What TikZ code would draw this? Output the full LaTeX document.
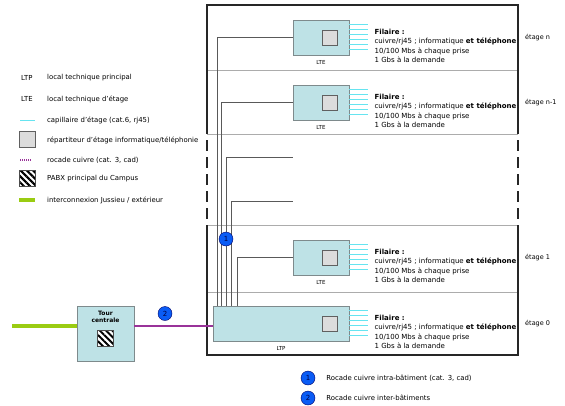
\documentclass[tikz,border=0pt]{standalone}
\usepackage{fontspec}
\setmainfont{DejaVu Sans}
\usetikzlibrary{positioning,patterns.meta}

\definecolor{boxcyan}{HTML}{BEE2E6}
\definecolor{boxedge}{HTML}{7E8A8C}
\definecolor{capcyan}{HTML}{66E4F0}
\definecolor{repgray}{HTML}{DCDCDC}
\definecolor{badgeblue}{HTML}{0A5CF5}
\definecolor{jussieu}{HTML}{9ACC12}
\definecolor{rocade}{HTML}{993399}

\newcommand\legfont{\fontsize{6.9pt}{8pt}\selectfont}
\newcommand\filaire{\textbf{Filaire :}\\cuivre/rj45 ; informatique \textbf{et téléphone}\\10/100 Mbs à chaque prise\\1 Gbs à la demande}

\begin{document}
\begin{tikzpicture}[x=1pt, y=-1pt,
  local/.style={draw=boxedge, fill=boxcyan, line width=0.8pt, minimum width=56pt, minimum height=35pt, inner sep=0pt},
  repart/.style={draw=gray!75!black, fill=repgray, line width=0.8pt, minimum size=15pt, inner sep=0pt},
  pabx/.style={draw=gray!60!black, preaction={fill=white}, pattern={Lines[angle=-45,distance=4.4pt,line width=2pt]}, minimum size=16pt, inner sep=0pt},
  badge/.style={circle, draw=blue!40!black, fill=badgeblue, text=blue!25!black, minimum size=14pt, inner sep=0pt, font=\fontsize{7pt}{8pt}\selectfont},
  infotext/.style={anchor=north west, align=left, inner sep=0pt, font=\fontsize{7pt}{9.5pt}\selectfont},
  legtext/.style={anchor=west, inner sep=0pt, font=\legfont},
  tag/.style={font=\fontsize{5.5pt}{6pt}\selectfont, inner sep=0pt},
  wall/.style={line width=1.8pt, black!85},
  gapwall/.style={wall, dash pattern=on 11pt off 6pt},
  floorline/.style={line width=0.8pt, gray!65},
  riser/.style={line width=0.8pt, gray!70!black},
  capil/.style={line width=1pt, capcyan},
  jussieuline/.style={line width=4pt, jussieu},
  rocadeline/.style={line width=1.4pt, rocade}
]
\useasboundingbox (0,0) rectangle (565,405);

% building
\foreach \y in {70,134,225,292}
  \draw[floorline] (207,\y) -- (518,\y);
\draw[wall] (207,134) -- (207,5) -- (518,5) -- (518,134);
\draw[gapwall] (207,140) -- (207,222);
\draw[gapwall] (518,140) -- (518,222);
\draw[wall] (207,225) -- (207,355) -- (518,355) -- (518,225);

% local rooms
\node[local] (lten) at (321,37.5) {};
\node[local] (lten1) at (321,102.5) {};
\node[local] (lte1) at (321,257.5) {};
\node[local, minimum width=136pt] (ltp) at (281,323.5) {};
\foreach \b in {lten,lten1,lte1,ltp} {
  \node[repart, left=12pt of \b.east] (rep\b) {};
  \node[infotext] (txt\b) at ([xshift=25pt,yshift=-9pt]\b.north east) {\filaire};
  \foreach \dy in {-12,-7,-2,3,8,13}
    \draw[capil] ([yshift=\dy pt]\b.east) -- ++(19,0);
}
\node[tag, below=5pt of lten] {LTE};
\node[tag, below=5pt of lten1] {LTE};
\node[tag, below=5pt of lte1] {LTE};
\node[tag, below=5pt of ltp] {LTP};

\node[legtext, font=\fontsize{6.5pt}{8pt}\selectfont] (etn) at (525,37.5) {étage n};
\node[legtext, font=\fontsize{6.5pt}{8pt}\selectfont] (etn1) at (525,102.5) {étage n-1};
\node[legtext, font=\fontsize{6.5pt}{8pt}\selectfont] (et1) at (525,257.5) {étage 1};
\node[legtext, font=\fontsize{6.5pt}{8pt}\selectfont] (et0) at (525,323.5) {étage 0};

% risers
\coordinate (gapa) at (293,157);
\coordinate (gapb) at (293,201);
\draw[riser] ([xshift=5pt]ltp.north west) |- (lten.west);
\draw[riser] ([xshift=9pt]ltp.north west) |- (lten1.west);
\draw[riser] ([xshift=14pt]ltp.north west) |- (gapa);
\draw[riser] ([xshift=19pt]ltp.north west) |- (gapb);
\draw[riser] ([xshift=25pt]ltp.north west) |- (lte1.west);
\node[badge] (b1) at (226,239) {1};

% campus
\node[local, minimum width=57pt, minimum height=55pt] (tour) at (105.5,333.5) {};
\node[align=center, inner sep=0pt, font=\fontsize{6pt}{7.5pt}\selectfont\bfseries, below=5pt of tour.north] (tourlbl) {Tour\\centrale};
\node[pabx] (pabxtour) at (105,338.5) {};
\coordinate (ext) at (12,326);
\draw[jussieuline] (ext) -- (ext -| tour.west);
\draw[rocadeline] (ext -| tour.east) -- (ext -| ltp.west);
\node[badge] (b2) at (165,313.5) {2};

% legend
\node[legtext] (symltp) at (21,78) {LTP};
\node[legtext] (legltp) at (47,78) {local technique principal};
\node[legtext] (symlte) at (21,99) {LTE};
\node[legtext] (leglte) at (47,99) {local technique d'étage};
\coordinate (symcap) at (20,120.5);
\draw[capil] (symcap) -- ++(15,0);
\node[legtext] (legcap) at (47,120) {capillaire d'étage (cat.6, rj45)};
\node[repart, minimum size=16pt] (symrep) at (27,139) {};
\node[legtext] (legrep) at (47,140) {répartiteur d'étage informatique/téléphonie};
\coordinate (symroc) at (20,160);
\draw[rocade, line width=1.2pt, dash pattern=on 1.2pt off 0.8pt] (symroc) -- ++(11,0);
\node[legtext] (legroc) at (47,160) {rocade cuivre (cat. 3, cad)};
\node[pabx] (sympabx) at (27,178.5) {};
\node[legtext] (legpabx) at (47,179) {PABX principal du Campus};
\coordinate (symjus) at (19,200);
\draw[jussieuline] (symjus) -- ++(16,0);
\node[legtext] (legjus) at (47,200) {interconnexion Jussieu / extérieur};

\node[badge] (k1) at (308,378) {1};
\node[legtext, right=11pt of k1] (legk1) {Rocade cuivre intra-bâtiment (cat. 3, cad)};
\node[badge] (k2) at (308,398) {2};
\node[legtext, right=11pt of k2] (legk2) {Rocade cuivre inter-bâtiments};
\end{tikzpicture}
\end{document}
